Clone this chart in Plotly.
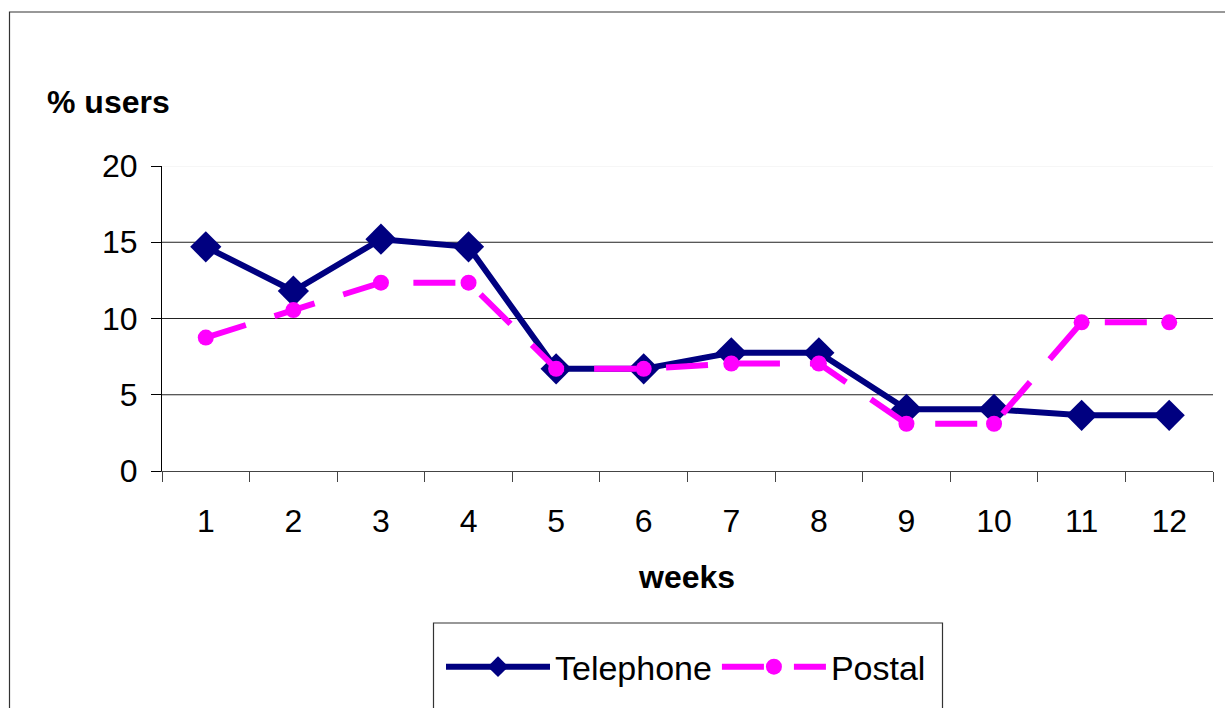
import plotly.graph_objects as go

weeks = [str(i) for i in range(1, 13)]
telephone = [14.7, 11.8, 15.2, 14.7, 6.7, 6.7, 7.75, 7.75, 4.05, 4.05, 3.65, 3.65]
postal = [8.75, 10.55, 12.35, 12.35, 6.7, 6.7, 7.05, 7.05, 3.1, 3.1, 9.75, 9.75]
y_ticks = [0, 5, 10, 15, 20]

FONT = "Liberation Sans, Arial, sans-serif"
W, H = 1225, 708
L, R, T, B = 162, 12, 166, 234
pw, ph = W - L - R, H - T - B

def px_x(p):
    return (p - L) / pw

def px_y(p):
    return (H - B - p) / ph

fig = go.Figure()
fig.add_trace(go.Scatter(
    x=weeks, y=telephone, name="Telephone", mode="lines+markers",
    line=dict(color="#000080", width=6),
    marker=dict(symbol="diamond", size=24, color="#000080"),
))
fig.add_trace(go.Scatter(
    x=weeks, y=postal, name="Postal", mode="lines+markers",
    line=dict(color="#FF00FF", width=6, dash="42px,30px"),
    marker=dict(symbol="circle", size=16, color="#FF00FF"),
))

shapes = []
for v in y_ticks[1:-1]:
    shapes.append(dict(type="line", xref="paper", yref="y", x0=0, x1=1, y0=v, y1=v,
                       line=dict(color="#222", width=1), layer="below"))
shapes.append(dict(type="line", xref="paper", yref="y", x0=0, x1=1, y0=y_ticks[-1], y1=y_ticks[-1],
                   line=dict(color="#eeeeee", width=1), layer="below"))
# outer chart border
shapes.append(dict(type="rect", xref="paper", yref="paper",
                   x0=px_x(9.5), x1=px_x(1240), y0=px_y(10.5), y1=px_y(730),
                   line=dict(color="#333", width=1.2), fillcolor="rgba(0,0,0,0)", layer="below"))
# legend frame
shapes.append(dict(type="rect", xref="paper", yref="paper",
                   x0=px_x(433.5), x1=px_x(942.5), y0=px_y(627.5), y1=px_y(740),
                   line=dict(color="#333", width=1.2), fillcolor="white", layer="below"))

fig.update_layout(
    width=W, height=H,
    margin=dict(l=L, r=R, t=T, b=B, pad=0),
    paper_bgcolor="white", plot_bgcolor="rgba(0,0,0,0)",
    font=dict(family=FONT, size=32, color="black"),
    showlegend=True,
    legend=dict(orientation="h", x=px_x(441), y=px_y(672), xanchor="left", yanchor="middle",
                bgcolor="rgba(0,0,0,0)", borderwidth=0,
                font=dict(family=FONT, size=34, color="black"),
                itemwidth=104, tracegroupgap=0),
    xaxis=dict(type="category", tickson="boundaries", ticks="outside", ticklen=10,
               tickcolor="#444", tickwidth=1, showline=True, linecolor="#444", linewidth=1,
               showgrid=False, zeroline=False, ticklabelstandoff=22,
               tickfont=dict(family=FONT, size=32, color="black"),
               range=[-0.5, 11.5]),
    yaxis=dict(range=[0, 20], tickvals=y_ticks, ticks="outside", ticklen=10,
               tickcolor="black", tickwidth=1, showline=True, linecolor="black", linewidth=1,
               showgrid=False, zeroline=False, ticklabelstandoff=7,
               tickfont=dict(family=FONT, size=32, color="black")),
    shapes=shapes,
    annotations=[
        dict(text="<b>% users</b>", xref="paper", yref="paper", x=px_x(45), y=px_y(101),
             xanchor="left", yanchor="middle", showarrow=False,
             font=dict(family=FONT, size=32, color="black")),
        dict(text="<b>weeks</b>", xref="paper", yref="paper", x=px_x(686), y=px_y(581),
             xanchor="center", yanchor="middle", showarrow=False,
             font=dict(family=FONT, size=32, color="black")),
    ],
)

fig.write_html("out.html", config={"displayModeBar": False},
               post_script="document.body.style.margin='0';document.body.style.overflow='hidden';")
